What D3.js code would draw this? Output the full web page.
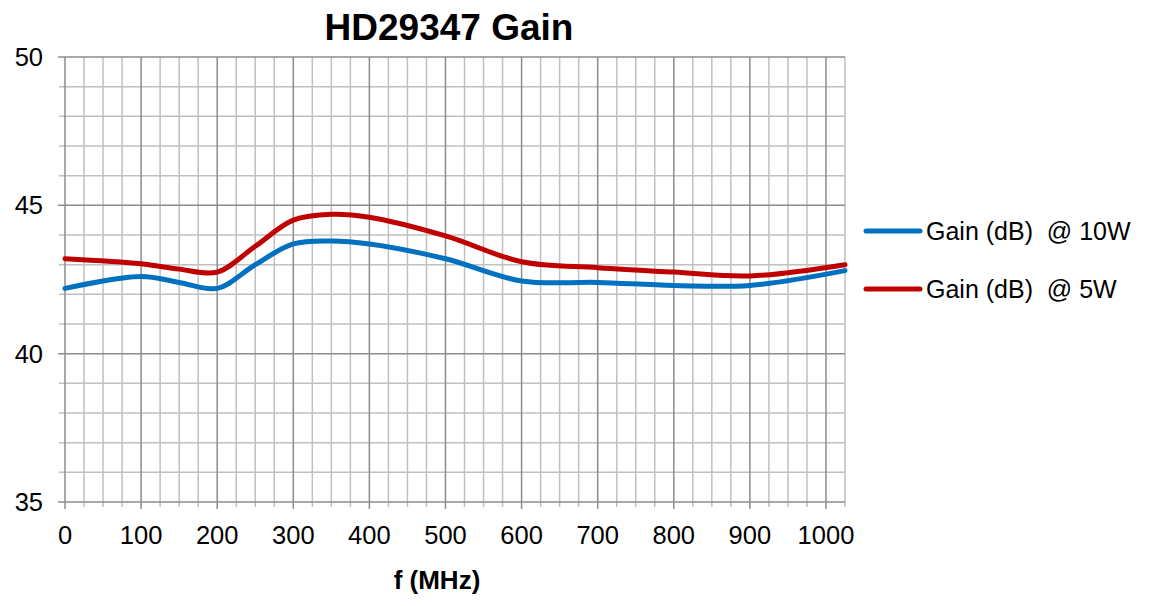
<!DOCTYPE html>
<html>
<head>
<meta charset="utf-8">
<script src="https://cdn.jsdelivr.net/npm/d3@7"></script>
<style>
  html, body { margin: 0; padding: 0; background: #fff; }
  svg { display: block; font-family: Arial, "Liberation Sans", sans-serif; }
</style>
</head>
<body>
<div id="chart"></div>
<script>
// Data
const freqs   = [0, 100, 150, 200, 250, 300, 350, 400, 500, 600, 700, 800, 900, 1025];
const gain10W = [42.2, 42.6, 42.4, 42.2, 43.0, 43.7, 43.8, 43.7, 43.2, 42.45, 42.4, 42.3, 42.3, 42.8];
const gain5W  = [43.2, 43.03, 42.85, 42.75, 43.62, 44.5, 44.7, 44.6, 43.97, 43.1, 42.9, 42.75, 42.62, 43.0];
const seriesNames = ['Gain (dB)  @ 10W', 'Gain (dB)  @ 5W'];
const xTicks = [0, 100, 200, 300, 400, 500, 600, 700, 800, 900, 1000];
const yTicks = [35, 40, 45, 50];

(function main(){
  const width = 1153, height = 606;
  const margin = { top: 57, right: 308, bottom: 104, left: 65 };
  const innerW = width - margin.left - margin.right;
  const innerH = height - margin.top - margin.bottom;

  const colors = ['#0070C0', '#C00000'];

  const svg = d3.select('#chart').append('svg')
    .attr('width', width).attr('height', height);

  const plot = svg.append('g').attr('transform', `translate(${margin.left},${margin.top})`);

  const x = d3.scaleLinear().domain([0, 1025]).range([0, innerW]);
  const y = d3.scaleLinear().domain([35, 50]).range([innerH, 0]);

  // minor grid
  const minorX = d3.range(25, 1025 + 1, 25).filter(v => v % 100 !== 0);
  const minorY = d3.range(35, 50.5, 1).filter(v => v % 5 !== 0);

  plot.append('g').selectAll('line').data(minorX).enter().append('line')
    .attr('x1', d => x(d)).attr('x2', d => x(d))
    .attr('y1', 0).attr('y2', innerH + 5)
    .attr('stroke', '#c0c0c0').attr('stroke-width', 1.5);
  plot.append('g').selectAll('line').data(minorY).enter().append('line')
    .attr('x1', -6).attr('x2', innerW)
    .attr('y1', d => y(d)).attr('y2', d => y(d))
    .attr('stroke', '#c0c0c0').attr('stroke-width', 1.5);

  // major grid
  plot.append('g').selectAll('line').data(xTicks).enter().append('line')
    .attr('x1', d => x(d)).attr('x2', d => x(d))
    .attr('y1', 0).attr('y2', innerH + 7)
    .attr('stroke', '#8c8c8c').attr('stroke-width', 1.5);
  plot.append('g').selectAll('line').data(yTicks).enter().append('line')
    .attr('x1', -7).attr('x2', innerW)
    .attr('y1', d => y(d)).attr('y2', d => y(d))
    .attr('stroke', '#8c8c8c').attr('stroke-width', 1.5);

  // axis tick labels
  plot.append('g').selectAll('text').data(yTicks).enter().append('text')
    .attr('x', -22).attr('y', d => y(d)).attr('dy', '0.35em')
    .attr('text-anchor', 'end')
    .style('font-size', '25.5px').style('fill', '#000')
    .text(d => d);
  plot.append('g').selectAll('text').data(xTicks).enter().append('text')
    .attr('x', d => x(d)).attr('y', innerH + 42)
    .attr('text-anchor', 'middle')
    .style('font-size', '25.5px').style('fill', '#000')
    .text(d => d);

  // title and axis label
  svg.append('text')
    .attr('x', 449).attr('y', 40)
    .attr('text-anchor', 'middle')
    .style('font-size', '37px').style('font-weight', 'bold')
    .text('HD29347 Gain');
  svg.append('text')
    .attr('x', 437).attr('y', 589)
    .attr('text-anchor', 'middle')
    .style('font-size', '26px').style('font-weight', 'bold')
    .text('f (MHz)');

  // series
  const series = [gain10W, gain5W].map((vals, i) => ({
    name: seriesNames[i], color: colors[i],
    data: freqs.map((f, j) => ({ f, v: vals[j] }))
  }));

  const line = d3.line()
    .x(d => x(d.f)).y(d => y(d.v))
    .curve(d3.curveCatmullRom.alpha(0.5));

  plot.selectAll('.series').data(series).enter().append('path')
    .attr('class', 'series')
    .attr('fill', 'none')
    .attr('stroke', d => d.color)
    .attr('stroke-width', 5)
    .attr('stroke-linecap', 'round')
    .attr('d', d => line(d.data));

  // legend
  const legend = svg.append('g').attr('transform', 'translate(866,231)');
  const items = legend.selectAll('g').data(series).enter().append('g')
    .attr('transform', (d, i) => `translate(0,${i * 58})`);
  items.append('line')
    .attr('x1', 0).attr('x2', 54).attr('y1', 0).attr('y2', 0)
    .attr('stroke', d => d.color).attr('stroke-width', 5)
    .attr('stroke-linecap', 'round');
  items.append('text')
    .attr('x', 60).attr('y', 0).attr('dy', '0.35em')
    .style('font-size', '25px').style('white-space', 'pre')
    .attr('xml:space', 'preserve')
    .text(d => d.name);
})();
</script>
</body>
</html>
